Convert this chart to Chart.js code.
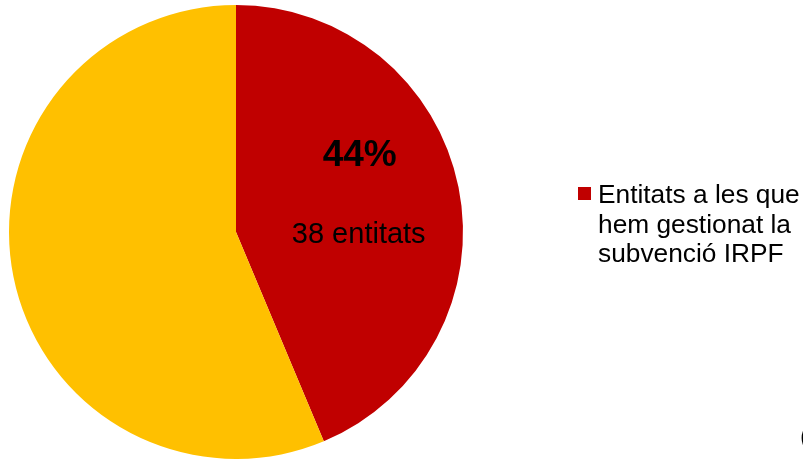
<!DOCTYPE html>
<html>
<head>
<meta charset="utf-8">
<script src="https://cdn.jsdelivr.net/npm/chart.js@4.4.0/dist/chart.umd.min.js"></script>
<style>
  html, body { margin: 0; padding: 0; background: #fff; }
  #wrap { width: 803px; height: 461px; position: relative; }
</style>
</head>
<body>
<div id="wrap"><canvas id="mycanvas" width="803" height="461"></canvas></div>
<script>
var categories = ['Entitats a les que hem gestionat la subvenció IRPF', 'Altres entitats'];
var counts = [38, 49];
var colors = ['#C00000', '#FFC000'];
var legendLines = ['Entitats a les que', 'hem gestionat la', 'subvenció IRPF'];

var total = counts.reduce(function(a, b) { return a + b; }, 0);

var labelPlugin = {
	id: 'labels',
	afterDraw: function(chart) {
		var ctx = chart.ctx;
		var arc = chart.getDatasetMeta(0).data[0];
		var r = arc.outerRadius;
		var cx = arc.x + r * 0.545;
		var pct = Math.round(counts[0] / total * 100) + '%';
		ctx.save();
		ctx.fillStyle = '#000';
		ctx.textAlign = 'center';
		ctx.textBaseline = 'middle';
		ctx.font = 'bold 37px "Liberation Sans", Arial, sans-serif';
		ctx.fillText(pct, cx, arc.y - r * 0.335);
		ctx.font = '29px "Liberation Sans", Arial, sans-serif';
		ctx.fillText(counts[0] + ' entitats', cx - 1, arc.y + r * 0.015);

		// legend (first entry only)
		ctx.fillStyle = colors[0];
		ctx.fillRect(578, 187, 13, 13);
		ctx.fillStyle = '#000';
		ctx.textAlign = 'left';
		ctx.textBaseline = 'alphabetic';
		ctx.font = '26.3px "Liberation Sans", Arial, sans-serif';
		for (var i = 0; i < legendLines.length; i++) {
			ctx.fillText(legendLines[i], 598, 203 + i * 29.5);
		}
		ctx.font = '26px "Liberation Sans", Arial, sans-serif';
		ctx.fillText('(', 800, 445);
		ctx.restore();
	}
};

var ctx = document.getElementById('mycanvas');
var pieChart = new Chart(ctx, {
	type: 'pie',
	data: {
		labels: categories,
		datasets: [{
			data: counts,
			backgroundColor: colors,
			borderWidth: 0
		}]
	},
	options: {
		responsive: false,
		animation: false,
		layout: { padding: { left: 9, top: 5, bottom: 2, right: 340 } },
		plugins: {
			legend: { display: false },
			tooltip: { enabled: false }
		}
	},
	plugins: [labelPlugin]
});
</script>
</body>
</html>
